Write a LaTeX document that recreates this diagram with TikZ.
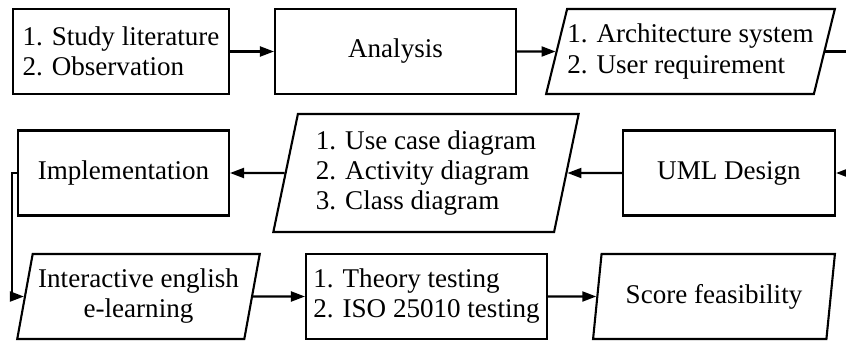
\documentclass[tikz,border=0pt]{standalone}
\usepackage{fontspec}
\setmainfont{Liberation Serif}
\usepackage{tikz}
\usetikzlibrary{arrows.meta, positioning, shapes.geometric}

\begin{document}
\begin{tikzpicture}[
  x=0.02cm, y=-0.02cm,
  every node/.style={font=\fontsize{15.4pt}{17.1pt}\selectfont, line width=1.2pt, inner sep=0pt},
  box/.style={rectangle, draw, minimum height=1.7cm},
  io/.style={trapezium, draw, trapezium stretches=true, minimum height=1.7cm,
    trapezium left angle=#1, trapezium right angle=180-#1},
  flow/.style={draw, line width=1.2pt, -{Triangle[length=2.8mm, width=2mm]}}
  ]

  \useasboundingbox (0,0) rectangle (846,342);

  % first row
  \node[box, minimum width=4.32cm, align=left] (study) at (121,51.5)
    {1. Study literature\\2. Observation};
  \node[box, minimum width=4.82cm] (analysis) at (395.5,51.5) {Analysis};
  \node[io=69, minimum width=5.78cm, align=left] (arch) at (690.5,51.5)
    {1. Architecture system\\2. User requirement};

  % second row
  \node[box, minimum width=4.22cm] (impl) at (123.5,173) {Implementation};
  \node[io=76, minimum width=6.12cm, minimum height=2.36cm, align=left] (umlio) at (426,173)
    {1. Use case diagram\\2. Activity diagram\\3. Class diagram};
  \node[box, minimum width=4.24cm] (uml) at (729,173) {UML Design};

  % third row
  \node[io=75, minimum width=4.86cm, align=center] (inter) at (138.5,296.5)
    {Interactive english\\e-learning};
  \node[box, minimum width=4.82cm, align=left] (test) at (426.5,296.5)
    {1. Theory testing\\2. ISO 25010 testing};
  \node[io=75, minimum width=4.84cm] (score) at (714,296.5) {Score feasibility};

  \draw[flow] (study) -- (analysis);
  \draw[flow] (analysis) -- (arch.west);
  \draw[flow] (arch.east) -- ++(40,0) |- (uml.east);
  \draw[flow] (uml) -- (umlio.east);
  \draw[flow] (umlio.west) -- (impl);
  \draw[flow] (impl.west) -- ++(-5,0) |- (inter.west);
  \draw[flow] (inter.east) -- (test.west);
  \draw[flow] (test.east) -- (score.west);

\end{tikzpicture}
\end{document}
